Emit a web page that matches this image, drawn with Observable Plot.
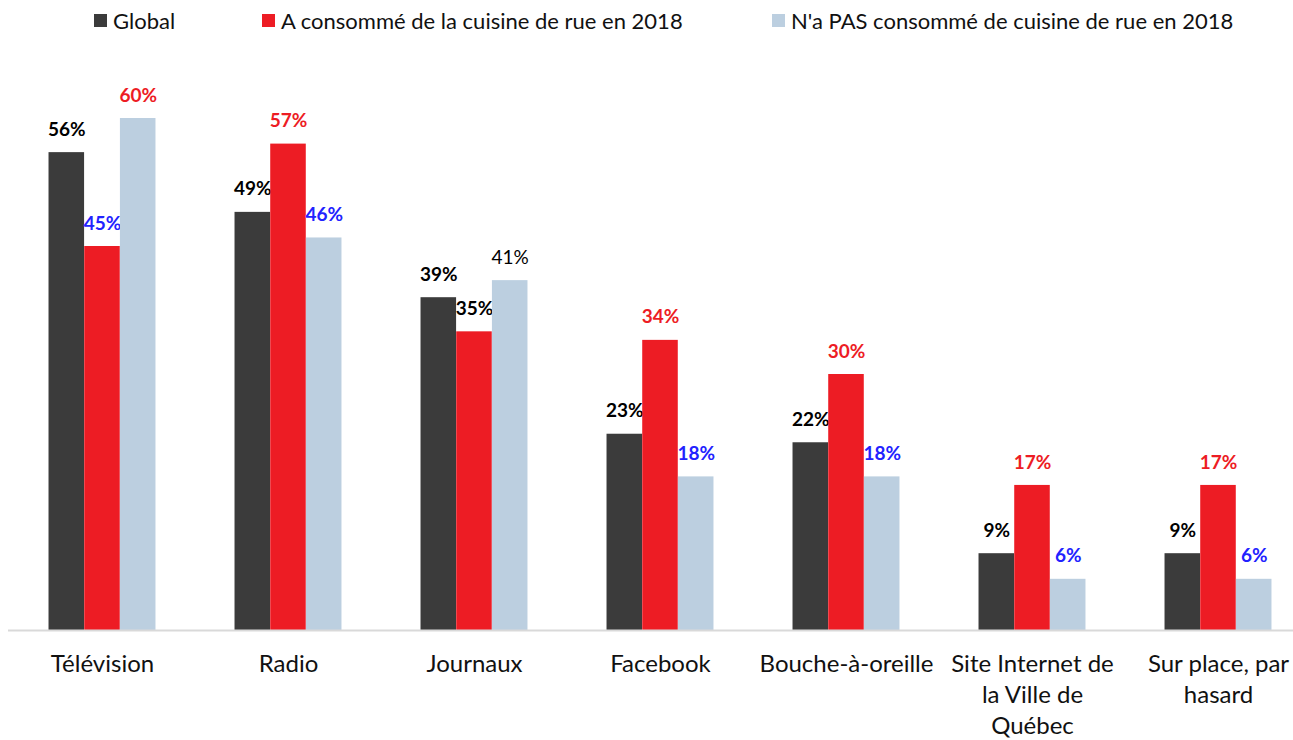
<!DOCTYPE html>
<html>
<head>
<meta charset="utf-8">
<script src="https://cdn.jsdelivr.net/npm/d3@7"></script>
<script src="https://cdn.jsdelivr.net/npm/@observablehq/plot@0.6"></script>
<style>
  html, body { margin: 0; padding: 0; background: #fff; }
  body { width: 1293px; height: 740px; overflow: hidden; font-family: Lato, "Open Sans", sans-serif; }
  #legend { position: relative; height: 40px; width: 1293px; }
  .item { position: absolute; top: 0; height: 40px; display: flex; align-items: center; font-size: 22px; color: #111; white-space: nowrap; }
  .sw { width: 13px; height: 13px; margin-right: 6px; display: inline-block; }
</style>
</head>
<body>
<div id="legend"></div>
<div id="chart"></div>
<script>
const categories = ["Télévision", "Radio", "Journaux", "Facebook", "Bouche-à-oreille", "Site Internet de la Ville de Québec", "Sur place, par hasard"];
const tickLabels = ["Télévision", "Radio", "Journaux", "Facebook", "Bouche-à-oreille", "Site Internet de\nla Ville de\nQuébec", "Sur place, par\nhasard"];
const seriesNames = ["Global", "A consommé de la cuisine de rue en 2018", "N'a PAS consommé de cuisine de rue en 2018"];
const globalValues   = [56, 49, 39, 23, 22, 9, 9];
const consumedValues = [45, 57, 35, 34, 30, 17, 17];
const notConsumedValues = [60, 46, 41, 18, 18, 6, 6];
// significance vs. global: "+" significantly higher, "-" significantly lower, "" none
const globalSig      = ["", "", "", "", "", "", ""];
const consumedSig    = ["-", "+", "", "+", "+", "+", "+"];
const notConsumedSig = ["+", "-", "", "-", "-", "-", "-"];

const seriesColors = ["#3b3b3b", "#ed1c24", "#bccfe0"];
const sigColors = {"+": "#ed1c24", "-": "#2222ff", "": "#000000"};

const legend = document.getElementById("legend");
const legendLeft = [94, 262, 772];
seriesNames.forEach((n, i) => {
  const d = document.createElement("div");
  d.className = "item";
  d.style.left = legendLeft[i] + "px";
  d.innerHTML = `<span class="sw" style="background:${seriesColors[i]}"></span><span></span>`;
  d.lastChild.textContent = n;
  legend.appendChild(d);
});

const valueSets = [globalValues, consumedValues, notConsumedValues];
const sigSets = [globalSig, consumedSig, notConsumedSig];
const data = [];
valueSets.forEach((vals, s) => vals.forEach((v, i) => data.push({
  category: categories[i], series: s, value: v, sig: sigSets[s][i]
})));

const x0 = 8, x1 = 1311;
const step = (x1 - x0) / categories.length;
const barW = 35.7;
const marks = [];
for (let s = 0; s < 3; s++) {
  const left = step / 2 - barW * 1.5 + s * barW;
  const sub = data.filter(d => d.series === s);
  marks.push(Plot.barY(sub, {x: "category", y: "value", fill: seriesColors[s], insetLeft: left, insetRight: step - left - barW}));
  const off = (s - 1) * barW;
  const boldSub = sub.filter(d => !(s === 2 && d.sig === ""));
  const normSub = sub.filter(d => (s === 2 && d.sig === ""));
  marks.push(Plot.text(boldSub, {x: "category", y: "value", text: d => d.value + "%", dx: off, dy: -23,
    fill: d => s === 0 ? "#000" : sigColors[d.sig], fontWeight: "bold", fontSize: 19, fontFamily: "Lato, sans-serif"}));
  marks.push(Plot.text(normSub, {x: "category", y: "value", text: d => d.value + "%", dx: off, dy: -23,
    fill: "#000", fontWeight: "normal", fontSize: 19, fontFamily: "Lato, sans-serif"}));
}
marks.push(Plot.ruleY([0], {stroke: "#d9d9d9", strokeWidth: 2}));
marks.push(Plot.axisX({tickSize: 0, tickPadding: 19, fontSize: 24, lineHeight: 1.3,
  tickFormat: d => tickLabels[categories.indexOf(d)], fill: "#111", fontFamily: "Lato, sans-serif"}));

const chart = Plot.plot({
  width: 1293,
  height: 700,
  marginLeft: 8,
  marginRight: 0,
  marginTop: 0,
  marginBottom: 110,
  style: {fontFamily: "Lato, sans-serif", background: "#fff", overflow: "visible"},
  x: {type: "band", domain: categories, range: [x0, x1], padding: 0, label: null},
  y: {domain: [0, 60], range: [590, 78], axis: null},
  marks
});
document.getElementById("chart").appendChild(chart);
</script>
</body>
</html>
